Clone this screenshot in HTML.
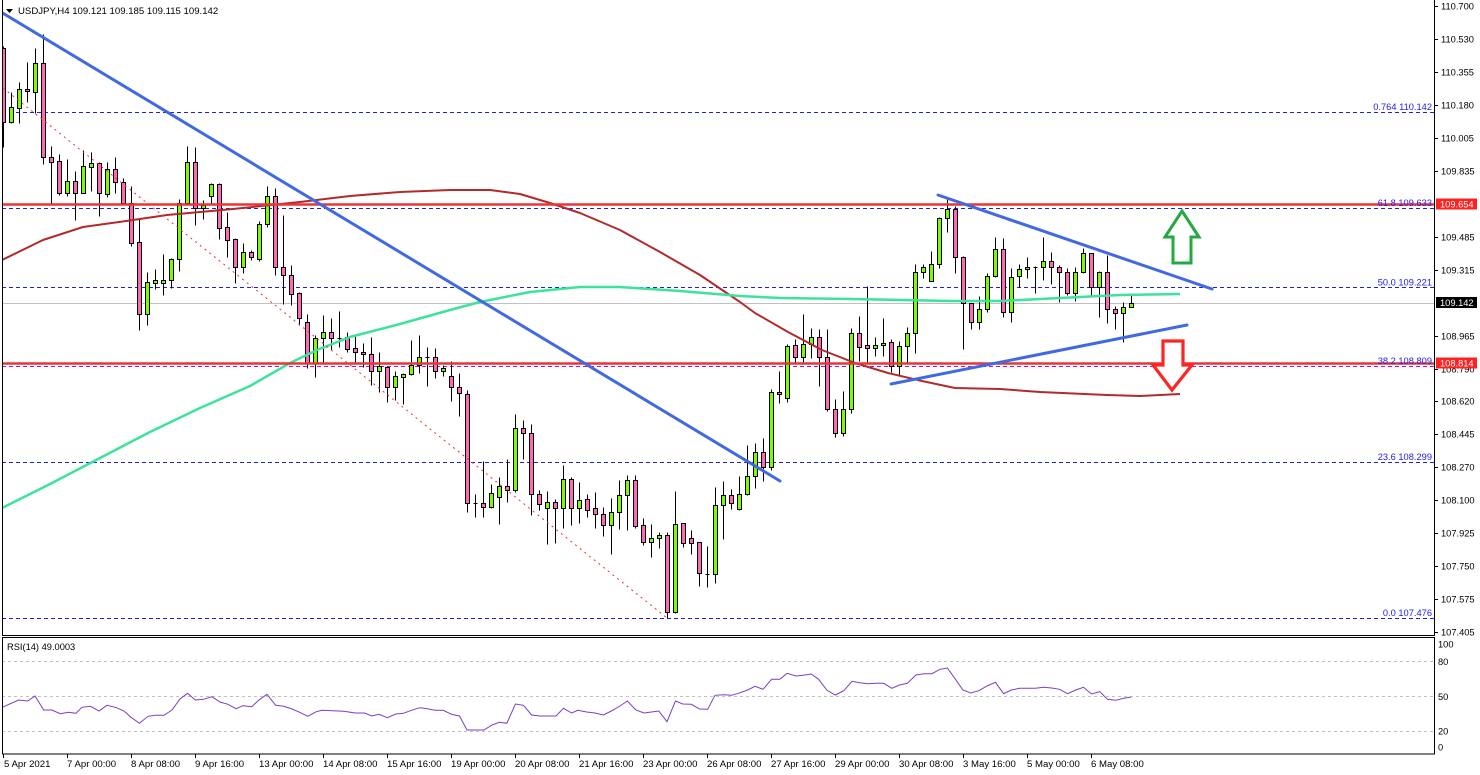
<!DOCTYPE html>
<html><head><meta charset="utf-8"><style>
html,body{margin:0;padding:0;background:#fff;}
svg{display:block;font-family:"Liberation Sans",Arial,sans-serif;}
.g{fill:#7cfc00;stroke:#000;stroke-width:1}
.p{fill:#ff69b4;stroke:#000;stroke-width:1}
.ax{font-size:9.3px;fill:#000}
.fl{font-size:9.3px;fill:#2020ee;text-anchor:end}
</style></head><body>
<svg width="1480" height="775" viewBox="0 0 1480 775" xmlns="http://www.w3.org/2000/svg">
<rect width="1480" height="775" fill="#fff"/>
<defs>
<clipPath id="c"><rect x="3" y="0" width="1431" height="635"/></clipPath>
<clipPath id="r"><rect x="3" y="638" width="1431" height="116"/></clipPath>
</defs>

<g clip-path="url(#c)">
<g stroke="#1e1ee6" stroke-width="1" stroke-dasharray="4,3" fill="none">
<path d="M2 112.5H1434"/>
<path d="M2 208.5H1434"/>
<path d="M2 287.5H1434"/>
<path d="M2 462.5H1434"/>
<path d="M2 618.5H1434"/>
</g>
<path d="M2 366.5H1434" stroke="#c010c8" stroke-width="1" stroke-dasharray="4,3"/>
<path d="M2 303.5H1434" stroke="#c0c0c0" stroke-width="1"/>

<g transform="translate(0.5,0.5)">
<path fill="none" stroke="#000" stroke-width="1" d="M3 46V147M11 92V123M19 82V123M27 62V102M35 48V113M43 34V164M51 146V203M59 154V195M67 159V196M75 171V220M83 150V193M91 152V191M99 162V216M107 162V197M115 157V193M123 178V205M131 186V246M139 219V330M147 272V325M155 269V289M163 254V295M171 258V288M179 199V271M187 146V205M195 147V225M203 200V219M211 183V205M219 183V239M227 212V257M235 238V283M243 243V273M251 250V260M259 221V261M267 186V227M275 188V275M283 215V304M291 265V305M299 292V325M307 314V368M315 335V377M323 315V363M331 318V350M339 311V347M347 332V352M355 336V363M363 343V367M371 337V385M379 352V392M387 366V402M395 371V400M403 373V404M411 340V375M419 335V373M427 347V386M435 348V378M443 365V376M451 361V401M459 373V416M467 390V512M475 494V517M483 461V517M491 484V508M499 477V524M507 459V502M515 414V492M523 420V459M531 424V515M539 490V510M547 491V544M555 499V543M563 465V528M571 477V525M579 482V523M587 494V517M595 492V528M603 507V536M611 498V554M619 480V529M627 475V530M635 475V528M643 518V545M651 524V557M659 532V548M667 532V618M675 491V613M683 523V547M691 530V554M699 542V586M707 546V587M715 487V583M723 481V539M731 489V509M739 476V510M747 445V495M755 443V488M763 438V481M771 389V470M779 371V403M787 344V402M795 339V363M803 314V363M811 328V358M819 329V386M827 329V411M835 399V437M843 391V436M851 328V413M859 316V361M867 286V364M875 337V356M883 318V356M891 339V372M899 341V375M907 327V364M915 264V353M923 264V278M931 251V281M939 217V268M947 197V232M955 206V273M963 256V349M971 303V329M979 296V329M987 273V312M995 237V277M1003 238V317M1011 268V322M1019 264V287M1027 257V278M1035 266V293M1043 237V280M1051 252V284M1059 265V302M1067 268V295M1075 267V301M1083 248V273M1091 253V296M1099 271V317M1107 255V323M1115 306V329M1123 302V342M1131 293V307"/>
<path fill="none" stroke="#000" stroke-width="1" d="M337 338h4M425 357h4M473 503h4M705 574h4M1033 267h4"/>
<rect class="p" x="1" y="48" width="4" height="74"/>
<rect class="g" x="9" y="107" width="4" height="15"/>
<rect class="g" x="17" y="89" width="4" height="19"/>
<rect class="p" x="25" y="89" width="4" height="2"/>
<rect class="g" x="33" y="63" width="4" height="29"/>
<rect class="p" x="41" y="63" width="4" height="94"/>
<rect class="p" x="49" y="157" width="4" height="5"/>
<rect class="p" x="57" y="161" width="4" height="32"/>
<rect class="g" x="65" y="181" width="4" height="12"/>
<rect class="p" x="73" y="181" width="4" height="12"/>
<rect class="g" x="81" y="166" width="4" height="27"/>
<rect class="g" x="89" y="163" width="4" height="4"/>
<rect class="p" x="97" y="163" width="4" height="30"/>
<rect class="g" x="105" y="169" width="4" height="25"/>
<rect class="p" x="113" y="169" width="4" height="13"/>
<rect class="p" x="121" y="182" width="4" height="21"/>
<rect class="p" x="129" y="203" width="4" height="40"/>
<rect class="p" x="137" y="242" width="4" height="72"/>
<rect class="g" x="145" y="282" width="4" height="32"/>
<rect class="g" x="153" y="280" width="4" height="3"/>
<rect class="g" x="161" y="280" width="4" height="3"/>
<rect class="g" x="169" y="259" width="4" height="21"/>
<rect class="g" x="177" y="203" width="4" height="56"/>
<rect class="g" x="185" y="162" width="4" height="41"/>
<rect class="p" x="193" y="162" width="4" height="46"/>
<rect class="g" x="201" y="205" width="4" height="3"/>
<rect class="g" x="209" y="184" width="4" height="12"/>
<rect class="p" x="217" y="184" width="4" height="44"/>
<rect class="p" x="225" y="227" width="4" height="13"/>
<rect class="p" x="233" y="239" width="4" height="28"/>
<rect class="g" x="241" y="252" width="4" height="15"/>
<rect class="p" x="249" y="252" width="4" height="5"/>
<rect class="g" x="257" y="224" width="4" height="35"/>
<rect class="g" x="265" y="196" width="4" height="28"/>
<rect class="p" x="273" y="196" width="4" height="71"/>
<rect class="p" x="281" y="267" width="4" height="8"/>
<rect class="p" x="289" y="275" width="4" height="19"/>
<rect class="p" x="297" y="293" width="4" height="25"/>
<rect class="p" x="305" y="322" width="4" height="41"/>
<rect class="g" x="313" y="338" width="4" height="25"/>
<rect class="g" x="321" y="332" width="4" height="6"/>
<rect class="p" x="329" y="332" width="4" height="6"/>
<rect class="p" x="345" y="337" width="4" height="12"/>
<rect class="p" x="353" y="348" width="4" height="4"/>
<rect class="p" x="361" y="352" width="4" height="2"/>
<rect class="p" x="369" y="354" width="4" height="17"/>
<rect class="g" x="377" y="366" width="4" height="5"/>
<rect class="p" x="385" y="367" width="4" height="20"/>
<rect class="g" x="393" y="376" width="4" height="11"/>
<rect class="g" x="401" y="374" width="4" height="3"/>
<rect class="g" x="409" y="365" width="4" height="9"/>
<rect class="g" x="417" y="357" width="4" height="8"/>
<rect class="p" x="433" y="357" width="4" height="14"/>
<rect class="g" x="441" y="368" width="4" height="3"/>
<rect class="p" x="449" y="376" width="4" height="11"/>
<rect class="p" x="457" y="387" width="4" height="6"/>
<rect class="p" x="465" y="394" width="4" height="109"/>
<rect class="p" x="481" y="503" width="4" height="4"/>
<rect class="g" x="489" y="493" width="4" height="14"/>
<rect class="g" x="497" y="486" width="4" height="11"/>
<rect class="p" x="505" y="486" width="4" height="4"/>
<rect class="g" x="513" y="428" width="4" height="62"/>
<rect class="p" x="521" y="428" width="4" height="5"/>
<rect class="p" x="529" y="433" width="4" height="61"/>
<rect class="p" x="537" y="494" width="4" height="10"/>
<rect class="g" x="545" y="502" width="4" height="6"/>
<rect class="p" x="553" y="502" width="4" height="6"/>
<rect class="g" x="561" y="479" width="4" height="29"/>
<rect class="p" x="569" y="479" width="4" height="29"/>
<rect class="g" x="577" y="500" width="4" height="8"/>
<rect class="p" x="585" y="499" width="4" height="11"/>
<rect class="p" x="593" y="508" width="4" height="6"/>
<rect class="p" x="601" y="514" width="4" height="11"/>
<rect class="g" x="609" y="512" width="4" height="13"/>
<rect class="g" x="617" y="495" width="4" height="17"/>
<rect class="g" x="625" y="480" width="4" height="15"/>
<rect class="p" x="633" y="480" width="4" height="46"/>
<rect class="p" x="641" y="525" width="4" height="17"/>
<rect class="g" x="649" y="538" width="4" height="4"/>
<rect class="g" x="657" y="535" width="4" height="3"/>
<rect class="p" x="665" y="535" width="4" height="77"/>
<rect class="g" x="673" y="524" width="4" height="88"/>
<rect class="p" x="681" y="523" width="4" height="20"/>
<rect class="p" x="689" y="538" width="4" height="5"/>
<rect class="p" x="697" y="542" width="4" height="31"/>
<rect class="g" x="713" y="505" width="4" height="69"/>
<rect class="g" x="721" y="495" width="4" height="10"/>
<rect class="p" x="729" y="495" width="4" height="8"/>
<rect class="g" x="737" y="494" width="4" height="15"/>
<rect class="g" x="745" y="476" width="4" height="18"/>
<rect class="g" x="753" y="452" width="4" height="24"/>
<rect class="p" x="761" y="452" width="4" height="15"/>
<rect class="g" x="769" y="392" width="4" height="75"/>
<rect class="p" x="777" y="392" width="4" height="2"/>
<rect class="g" x="785" y="346" width="4" height="52"/>
<rect class="p" x="793" y="345" width="4" height="12"/>
<rect class="g" x="801" y="344" width="4" height="13"/>
<rect class="g" x="809" y="337" width="4" height="7"/>
<rect class="p" x="817" y="337" width="4" height="20"/>
<rect class="p" x="825" y="357" width="4" height="52"/>
<rect class="p" x="833" y="409" width="4" height="24"/>
<rect class="g" x="841" y="409" width="4" height="24"/>
<rect class="g" x="849" y="333" width="4" height="76"/>
<rect class="p" x="857" y="333" width="4" height="14"/>
<rect class="p" x="865" y="345" width="4" height="3"/>
<rect class="g" x="873" y="345" width="4" height="3"/>
<rect class="g" x="881" y="343" width="4" height="2"/>
<rect class="p" x="889" y="342" width="4" height="24"/>
<rect class="g" x="897" y="346" width="4" height="20"/>
<rect class="g" x="905" y="333" width="4" height="13"/>
<rect class="g" x="913" y="272" width="4" height="61"/>
<rect class="g" x="921" y="267" width="4" height="5"/>
<rect class="g" x="929" y="264" width="4" height="17"/>
<rect class="g" x="937" y="218" width="4" height="46"/>
<rect class="g" x="945" y="209" width="4" height="9"/>
<rect class="p" x="953" y="209" width="4" height="48"/>
<rect class="p" x="961" y="257" width="4" height="46"/>
<rect class="p" x="969" y="303" width="4" height="19"/>
<rect class="g" x="977" y="309" width="4" height="13"/>
<rect class="g" x="985" y="276" width="4" height="33"/>
<rect class="g" x="993" y="249" width="4" height="27"/>
<rect class="p" x="1001" y="249" width="4" height="63"/>
<rect class="g" x="1009" y="277" width="4" height="35"/>
<rect class="g" x="1017" y="269" width="4" height="7"/>
<rect class="g" x="1025" y="267" width="4" height="2"/>
<rect class="g" x="1041" y="261" width="4" height="6"/>
<rect class="p" x="1049" y="261" width="4" height="6"/>
<rect class="p" x="1057" y="267" width="4" height="5"/>
<rect class="p" x="1065" y="272" width="4" height="21"/>
<rect class="g" x="1073" y="272" width="4" height="21"/>
<rect class="g" x="1081" y="253" width="4" height="19"/>
<rect class="p" x="1089" y="253" width="4" height="34"/>
<rect class="g" x="1097" y="272" width="4" height="15"/>
<rect class="p" x="1105" y="272" width="4" height="37"/>
<rect class="p" x="1113" y="309" width="4" height="4"/>
<rect class="g" x="1121" y="307" width="4" height="6"/>
<rect class="g" x="1129" y="303" width="4" height="4"/>
</g>

<polyline fill="none" stroke="#b22a2a" stroke-width="2" stroke-linejoin="round" points="2,260 43,240 83,227 133,220 167,215 233,209 300,202 350,196 400,192 450,190 490,190 520,194 550,203 580,213 620,230 660,252 700,275 740,302 755,313 788,332 822,350 855,363 888,373 922,381 955,388 1000,389 1040,392 1107,395 1140,396 1180,394"/>
<polyline fill="none" stroke="#3de39c" stroke-width="2.5" stroke-linejoin="round" points="2,508 50,484 100,458 150,432 200,408 250,386 290,363 317,350 350,337 400,324 450,310 480,302 530,292 580,287 620,287 680,291 740,296 780,298 850,299 950,301 1000,301 1060,298 1120,295 1180,294"/>

<path d="M2 204.5H1434" stroke="#e8353a" stroke-width="2.5"/>
<path d="M2 363.5H1434" stroke="#e8353a" stroke-width="2.5"/>

<path d="M3 88L667 618" stroke="#f03030" stroke-width="1" stroke-dasharray="2,4" fill="none"/>

<g stroke="#4169e1" stroke-width="3" fill="none" stroke-linecap="round">
<path d="M1 12L780 481"/>
<path d="M938 195L1212 289"/>
<path d="M891 384L1187 325"/>
</g>

<polygon points="1182,211 1199,237 1191,237 1191,263 1173,263 1173,237 1165,237" fill="#fff" stroke="#25a840" stroke-width="3" stroke-linejoin="miter"/>
<polygon points="1163,341 1183,341 1183,365 1192,365 1172,390 1153,365 1163,365" fill="#fff" stroke="#ff2424" stroke-width="3.2" stroke-linejoin="miter"/>

<text class="fl" x="1432" y="110">0.764 110.142</text>
<text class="fl" x="1432" y="206">61.8 109.633</text>
<text class="fl" x="1432" y="285.5">50.0 109.221</text>
<text class="fl" x="1432" y="364">38.2 108.809</text>
<text class="fl" x="1432" y="460">23.6 108.299</text>
<text class="fl" x="1432" y="616">0.0 107.476</text>

<polygon points="6,9 13,9 9.5,13" fill="#000"/>
<text x="18" y="14" style="font-size:9.6px" fill="#000">USDJPY,H4  109.121 109.185 109.115 109.142</text>
</g>

<path d="M2.5 0V635.5H1434.5V0" fill="none" stroke="#000" stroke-width="1"/>

<g stroke="#000" stroke-width="1">
<path d="M1434 6.5h4M1434 39.5h4M1434 72.5h4M1434 105.5h4M1434 138.5h4M1434 171.5h4M1434 237.5h4M1434 270.5h4M1434 336.5h4M1434 369.5h4M1434 401.5h4M1434 434.5h4M1434 467.5h4M1434 500.5h4M1434 533.5h4M1434 566.5h4M1434 599.5h4M1434 632.5h4"/>
</g>
<g class="ax">
<text class="ax" x="1441" y="9.5">110.700</text>
<text class="ax" x="1441" y="42.5">110.530</text>
<text class="ax" x="1441" y="75.5">110.355</text>
<text class="ax" x="1441" y="108.5">110.180</text>
<text class="ax" x="1441" y="141.5">110.005</text>
<text class="ax" x="1441" y="174.5">109.835</text>
<text class="ax" x="1441" y="240.5">109.485</text>
<text class="ax" x="1441" y="273.5">109.315</text>
<text class="ax" x="1441" y="339.5">108.965</text>
<text class="ax" x="1441" y="372.5">108.790</text>
<text class="ax" x="1441" y="404.5">108.620</text>
<text class="ax" x="1441" y="437.5">108.445</text>
<text class="ax" x="1441" y="470.5">108.270</text>
<text class="ax" x="1441" y="503.5">108.100</text>
<text class="ax" x="1441" y="536.5">107.925</text>
<text class="ax" x="1441" y="569.5">107.750</text>
<text class="ax" x="1441" y="602.5">107.575</text>
<text class="ax" x="1441" y="635.5">107.405</text>
</g>
<rect x="1436" y="198.5" width="41" height="11" fill="#ff2020"/>
<text x="1440" y="207.5" style="font-size:9.3px" fill="#fff">109.654</text>
<rect x="1436" y="357.5" width="41" height="11" fill="#ff2020"/>
<text x="1440" y="366.5" style="font-size:9.3px" fill="#fff">108.814</text>
<rect x="1436" y="297" width="41" height="11" fill="#000"/>
<text x="1440" y="306" style="font-size:9.3px" fill="#fff">109.142</text>

<g clip-path="url(#r)">
<g stroke="#c0c0c0" stroke-width="1" stroke-dasharray="3,3">
<path d="M2 661.5H1434"/>
<path d="M2 696.5H1434"/>
<path d="M2 731.5H1434"/>
</g>
<polyline fill="none" stroke="#7b3fc4" stroke-width="1" points="3,707 18.5,700 27.7,701 35,696 43.7,710 51.8,710 60.3,713.7 68.4,712.3 75.8,713.3 82,707.3 90.6,706.3 99,711 107,705.3 116.5,707.7 124,711 131,717.3 139.5,723.3 148,716.3 155.4,715.3 164,715.3 172,710 180,699 187.6,693.3 195.3,700 203.5,699.3 212,696.7 220,702 228,704.3 236,708.7 243,705.7 251.6,706.7 259,700 267,694.3 275.6,705.3 283.8,706.3 292,709 299.7,712.3 307.8,716.3 316.3,711.7 322,710.3 333,710.7 344,711.3 355,713 364.4,713 371.8,716 379,714.3 387.3,717.7 395.9,714 403.3,713.3 411.4,710.3 420,707.7 427.3,708.7 434.7,710.3 443.2,710.3 451.4,714.3 459.5,716 467,730 475.4,730 484,730 492,725 499.4,722.3 506.8,723.3 515.4,704 523.5,705.3 531.6,715 540,716 548.7,716 556,716 563.5,708.3 571.6,713 578,710.3 586.6,712 595,713 603.3,715 611.4,711 620,706 627.3,701 635.9,710 644,713 651.4,712 658.8,711 667,721.7 675.4,701 682.8,704 691.3,704.3 699.5,709 707.6,709.3 715,695.3 723.5,694.7 731.7,695.3 740.2,692.7 747.6,690 755,686.3 763,689.3 771.6,679.3 779.8,679.3 787.2,673.3 795.7,676 803,675.3 811.2,674 818.6,679.3 827,690.3 835.3,695 843.8,690.7 852,681.3 859.7,682.7 867.8,683.7 876,683.3 883.7,683.3 891.9,688.3 899.3,685 907.4,683.3 915.9,675 924,673.7 931.8,673.7 940,669.3 947.4,668 954.8,678.3 962.9,690 970.7,693 978.8,690.7 987,686 995.4,682.3 1003.6,693.7 1011.4,690 1019.5,688.3 1027.6,688.3 1035.4,688.3 1043.6,687.3 1051.7,688 1059.5,689.3 1067.6,693.7 1075.7,690 1083.5,687.3 1091.6,694 1099.8,691.7 1107.5,699.3 1115.7,700.3 1123.8,698.3 1131.2,697"/>
<text x="7" y="650" style="font-size:9.3px" fill="#000">RSI(14) 49.0003</text>
</g>
<rect x="2.5" y="637.5" width="1432" height="116.5" fill="none" stroke="#000" stroke-width="1"/>
<g class="ax">
<text class="ax" x="1438" y="647.5">100</text>
<text class="ax" x="1438" y="665">80</text>
<text class="ax" x="1438" y="700">50</text>
<text class="ax" x="1438" y="734.5">20</text>
<text class="ax" x="1438" y="750.5">0</text>
</g>

<path stroke="#000" stroke-width="1" d="M3.5 754v4M67.5 754v4M131.5 754v4M195.5 754v4M259.5 754v4M323.5 754v4M387.5 754v4M451.5 754v4M515.5 754v4M579.5 754v4M643.5 754v4M707.5 754v4M771.5 754v4M835.5 754v4M899.5 754v4M963.5 754v4M1027.5 754v4M1091.5 754v4"/>
<g style="font-size:9.6px" fill="#000">
<text x="4" y="767">5 Apr 2021</text>
<text x="67" y="767">7 Apr 00:00</text>
<text x="131" y="767">8 Apr 08:00</text>
<text x="195" y="767">9 Apr 16:00</text>
<text x="259" y="767">13 Apr 00:00</text>
<text x="323" y="767">14 Apr 08:00</text>
<text x="387" y="767">15 Apr 16:00</text>
<text x="451" y="767">19 Apr 00:00</text>
<text x="515" y="767">20 Apr 08:00</text>
<text x="579" y="767">21 Apr 16:00</text>
<text x="643" y="767">23 Apr 00:00</text>
<text x="707" y="767">26 Apr 08:00</text>
<text x="771" y="767">27 Apr 16:00</text>
<text x="835" y="767">29 Apr 00:00</text>
<text x="899" y="767">30 Apr 08:00</text>
<text x="963" y="767">3 May 16:00</text>
<text x="1027" y="767">5 May 00:00</text>
<text x="1091" y="767">6 May 08:00</text>
</g>
</svg>
</body></html>
